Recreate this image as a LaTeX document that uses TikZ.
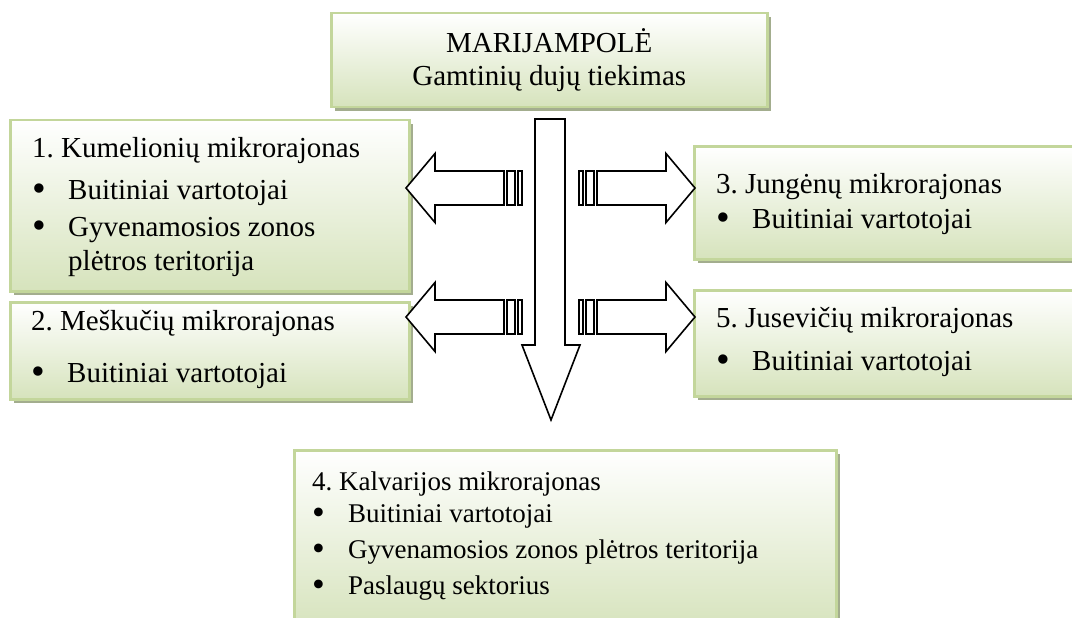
\documentclass[tikz,border=0pt]{standalone}
\usepackage{fontspec}
\setmainfont{Liberation Serif}
\usetikzlibrary{positioning}
\frenchspacing

\definecolor{zalia}{HTML}{D6E3BC}
\definecolor{krastas}{HTML}{C3D69B}
\definecolor{seselis}{HTML}{A3AD8E}

\tikzset{
  langelis/.style={draw=krastas, line width=2.5pt, top color=white, bottom color=zalia,
    inner sep=0pt, anchor=north west,
    preaction={fill=seselis, transform canvas={shift={(4pt,-4pt)}}}},
  tekstas/.style={align=left, inner sep=0pt, font=\fontsize{29}{34}\selectfont},
  rodykle/.style={draw=black, line width=1.6pt, fill=white, line join=miter}
}
\newcommand{\punktas}{\makebox[36pt][l]{\raisebox{-2pt}{\scalebox{1.35}{\textbullet}}}}

\begin{document}
\begin{tikzpicture}[x=1pt,y=-1pt]
  \useasboundingbox (0,0) rectangle (1072,618);

  % langeliai
  \node[langelis, minimum width=436pt, minimum height=94pt, align=center,
    font=\fontsize{29}{33}\selectfont] (virsus) at (330,12) {MARIJAMPOLĖ\\Gamtinių dujų tiekimas};
  \node[langelis, minimum width=399pt, minimum height=171pt] (k1) at (9,119) {};
  \node[langelis, minimum width=399pt, minimum height=97pt] (k2) at (9,301) {};
  \node[langelis, minimum width=400pt, minimum height=113pt] (k3) at (693,145) {};
  \node[langelis, minimum width=400pt, minimum height=106pt] (k5) at (693,289) {};
  \node[langelis, minimum width=542pt, minimum height=180pt] (k4) at (293,449) {};

  \node[tekstas, below right=18pt and 23pt of k1.north west] (k1t)
    {1. Kumelionių mikrorajonas\\[8pt]
     \punktas Buitiniai vartotojai\\[3pt]
     \punktas Gyvenamosios zonos\\
     \hspace*{36pt}plėtros teritorija};
  \node[tekstas, below right=9pt and 22pt of k2.north west] (k2t)
    {2. Meškučių mikrorajonas\\[18pt]
     \punktas Buitiniai vartotojai};
  \node[tekstas, below right=28pt and 23pt of k3.north west] (k3t)
    {3. Jungėnų mikrorajonas\\[1pt]
     \punktas Buitiniai vartotojai};
  \node[tekstas, below right=18pt and 23pt of k5.north west] (k5t)
    {5. Jusevičių mikrorajonas\\[9pt]
     \punktas Buitiniai vartotojai};
  \node[tekstas, font=\fontsize{27}{32}\selectfont, below right=23pt and 19pt of k4.north west] (k4t)
    {4. Kalvarijos mikrorajonas\\
     \punktas Buitiniai vartotojai\\[4pt]
     \punktas Gyvenamosios zonos plėtros teritorija\\[4pt]
     \punktas Paslaugų sektorius};

  % rodyklės
  \draw[rodykle] (535,119) -- (565,119) -- (565,345) -- (580,345) -- (551,420)
    -- (522,345) -- (535,345) -- cycle;
  \foreach \tx/\ty/\kr in {522/188/-1, 579/188/1, 522/317/-1, 579/317/1} {
    \begin{scope}[shift={(\tx,\ty)}, xscale=\kr]
      \draw[rodykle] (18,-17) -- (87,-17) -- (87,-34.5) -- (116,0) -- (87,34.5)
        -- (87,17) -- (18,17) -- cycle;
      \draw[rodykle] (0,-17) rectangle (4,17);
      \draw[rodykle] (7,-17) rectangle (15,17);
    \end{scope}
  }
\end{tikzpicture}
\end{document}
